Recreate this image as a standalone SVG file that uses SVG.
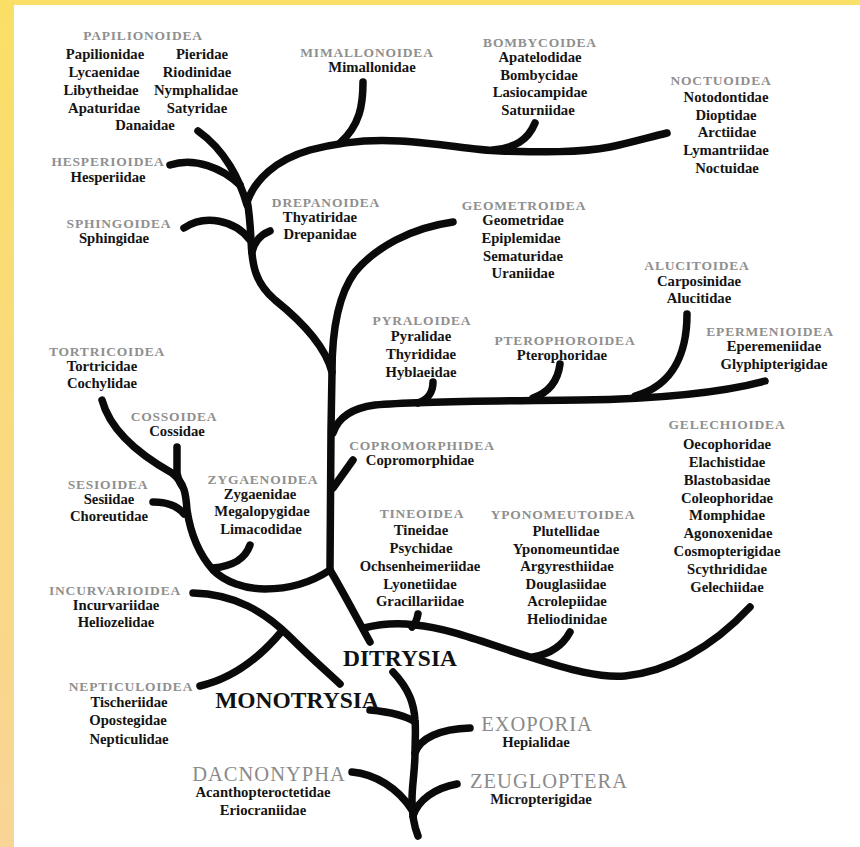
<svg xmlns="http://www.w3.org/2000/svg" width="860" height="847" viewBox="0 0 860 847">
<defs>
<linearGradient id="lg" x1="0" y1="0" x2="0" y2="1">
<stop offset="0" stop-color="#FADF66"/>
<stop offset="1" stop-color="#F8D596"/>
</linearGradient>
<style>
text{font-family:"Liberation Serif","Times New Roman",serif;text-anchor:middle}
.h{font-size:13.5px;letter-spacing:0.8px;font-weight:bold;fill:#8f8f8f}
.f{font-size:14.7px;font-weight:bold;fill:#141414}
.big{font-size:23.5px;font-weight:bold;fill:#111}
.cl{font-size:20.5px;letter-spacing:1px;fill:#8a8a8a}
#connectors path{fill:none;stroke:#0a0a0a;stroke-width:7.5;stroke-linecap:round;stroke-linejoin:round}
</style>
</defs>
<rect x="0" y="0" width="860" height="847" fill="#ffffff"/>
<rect x="0" y="0" width="860" height="5" fill="#FADF68"/>
<rect x="0" y="0" width="14" height="847" fill="url(#lg)"/>

<g id="connectors">
<path d="M418,836 C414,826 412,812 412,800 C412,785 415,770 415,753 C415,740 416,730 415,720 C414,705 410,690 393,672"/>
<path d="M413,816 C418,800 435,788 457,784"/>
<path d="M352,772 C375,774 398,788 412,810"/>
<path d="M415,753 C420,738 440,729 470,728"/>
<path d="M370,710 C390,712 405,715 415,722"/>
<path d="M193,593 C235,594 265,612 290,637 C310,657 325,670 340,684"/>
<path d="M200,686 C235,678 262,655 282,631"/>
<path d="M330,570 C342,590 355,615 370,642"/>
<path d="M364,628 C380,624 400,623 415,625 C450,628 490,645 530,657 C570,670 600,678 625,676 C665,672 710,650 750,607"/>
<path d="M418,614 C417,620 415,624 412,627"/>
<path d="M570,632 C562,647 550,654 533,657"/>
<path d="M102,400 C110,430 140,455 172,473 C185,483 186,495 187,510 C190,530 197,552 213,570 C225,582 245,589 265,589 C290,589 312,582 330,570"/>
<path d="M177,447 L177,473 Q178,480 182,486"/>
<path d="M153,502 C165,502 177,505 184,514"/>
<path d="M250,545 C245,560 232,566 213,568"/>
<path d="M330,570 L331,430 L332,372 C332,330 338,295 355,272 C375,248 410,228 453,222"/>
<path d="M332,372 C325,345 300,320 275,300 C255,283 252,265 251,240 C250,220 249,210 247,200"/>
<path d="M333,433 C338,418 352,408 375,405 C420,401 500,401 580,400 C650,399 720,393 765,381"/>
<path d="M433,382 C433,393 428,399 418,403"/>
<path d="M560,364 C558,380 550,392 533,398"/>
<path d="M687,314 C687,350 675,385 635,396"/>
<path d="M353,460 L333,488"/>
<path d="M184,228 C205,214 235,220 250,240"/>
<path d="M270,231 C260,235 254,243 252,252"/>
<path d="M247,205 C240,180 225,150 198,131"/>
<path d="M170,165 C195,157 222,168 240,185"/>
<path d="M247,202 C255,180 275,160 310,150 C340,142 370,139 400,141 C440,143 470,150 500,151 C540,152 580,153 610,147 C630,143 650,137 667,133"/>
<path d="M363,82 C363,105 360,125 340,143"/>
<path d="M535,123 C528,140 515,148 493,150"/>
</g>

<g id="papilionoidea">
<text class="h" x="143" y="40">PAPILIONOIDEA</text>
<text class="f" x="105" y="59">Papilionidae</text>
<text class="f" x="202" y="59">Pieridae</text>
<text class="f" x="104" y="77">Lycaenidae</text>
<text class="f" x="197" y="77">Riodinidae</text>
<text class="f" x="101" y="95">Libytheidae</text>
<text class="f" x="196" y="95">Nymphalidae</text>
<text class="f" x="104" y="113">Apaturidae</text>
<text class="f" x="197" y="113">Satyridae</text>
<text class="f" x="145" y="130">Danaidae</text>
</g>
<g id="hesperioidea">
<text class="h" x="108" y="166">HESPERIOIDEA</text>
<text class="f" x="108" y="182">Hesperiidae</text>
</g>
<g id="sphingoidea">
<text class="h" x="119" y="228">SPHINGOIDEA</text>
<text class="f" x="114" y="243">Sphingidae</text>
</g>
<g id="mimallonoidea">
<text class="h" x="367" y="57">MIMALLONOIDEA</text>
<text class="f" x="372" y="72">Mimallonidae</text>
</g>
<g id="bombycoidea">
<text class="h" x="540" y="47">BOMBYCOIDEA</text>
<text class="f" x="540" y="62">Apatelodidae</text>
<text class="f" x="539" y="80">Bombycidae</text>
<text class="f" x="540" y="97">Lasiocampidae</text>
<text class="f" x="538" y="115">Saturniidae</text>
</g>
<g id="noctuoidea">
<text class="h" x="721" y="85">NOCTUOIDEA</text>
<text class="f" x="726" y="102">Notodontidae</text>
<text class="f" x="726" y="120">Dioptidae</text>
<text class="f" x="727" y="137">Arctiidae</text>
<text class="f" x="726" y="155">Lymantriidae</text>
<text class="f" x="727" y="173">Noctuidae</text>
</g>
<g id="drepanoidea">
<text class="h" x="326" y="207">DREPANOIDEA</text>
<text class="f" x="320" y="222">Thyatiridae</text>
<text class="f" x="320" y="239">Drepanidae</text>
</g>
<g id="geometroidea">
<text class="h" x="524" y="210">GEOMETROIDEA</text>
<text class="f" x="523" y="225">Geometridae</text>
<text class="f" x="521" y="243">Epiplemidae</text>
<text class="f" x="523" y="261">Sematuridae</text>
<text class="f" x="523" y="278">Uraniidae</text>
</g>
<g id="alucitoidea">
<text class="h" x="697" y="270">ALUCITOIDEA</text>
<text class="f" x="699" y="286">Carposinidae</text>
<text class="f" x="699" y="303">Alucitidae</text>
</g>
<g id="pyraloidea">
<text class="h" x="422" y="325">PYRALOIDEA</text>
<text class="f" x="421" y="341">Pyralidae</text>
<text class="f" x="421" y="359">Thyrididae</text>
<text class="f" x="421" y="377">Hyblaeidae</text>
</g>
<g id="pterophoroidea">
<text class="h" x="565" y="345">PTEROPHOROIDEA</text>
<text class="f" x="562" y="360">Pterophoridae</text>
</g>
<g id="epermenioidea">
<text class="h" x="770" y="336">EPERMENIOIDEA</text>
<text class="f" x="774" y="351">Eperemeniidae</text>
<text class="f" x="774" y="369">Glyphipterigidae</text>
</g>
<g id="gelechioidea">
<text class="h" x="727" y="429">GELECHIOIDEA</text>
<text class="f" x="727" y="449">Oecophoridae</text>
<text class="f" x="727" y="467">Elachistidae</text>
<text class="f" x="727" y="485">Blastobasidae</text>
<text class="f" x="727" y="503">Coleophoridae</text>
<text class="f" x="727" y="520">Momphidae</text>
<text class="f" x="728" y="538">Agonoxenidae</text>
<text class="f" x="727" y="556">Cosmopterigidae</text>
<text class="f" x="727" y="574">Scythrididae</text>
<text class="f" x="727" y="592">Gelechiidae</text>
</g>
<g id="tortricoidea">
<text class="h" x="107" y="356">TORTRICOIDEA</text>
<text class="f" x="102" y="371">Tortricidae</text>
<text class="f" x="102" y="388">Cochylidae</text>
</g>
<g id="cossoidea">
<text class="h" x="174" y="421">COSSOIDEA</text>
<text class="f" x="177" y="436">Cossidae</text>
</g>
<g id="sesioidea">
<text class="h" x="108" y="489">SESIOIDEA</text>
<text class="f" x="109" y="504">Sesiidae</text>
<text class="f" x="109" y="521">Choreutidae</text>
</g>
<g id="zygaenoidea">
<text class="h" x="263" y="484">ZYGAENOIDEA</text>
<text class="f" x="260" y="499">Zygaenidae</text>
<text class="f" x="262" y="516">Megalopygidae</text>
<text class="f" x="261" y="534">Limacodidae</text>
</g>
<g id="copromorphoidea">
<text class="h" x="422" y="450">COPROMORPHIDEA</text>
<text class="f" x="420" y="465">Copromorphidae</text>
</g>
<g id="tineoidea">
<text class="h" x="422" y="518">TINEOIDEA</text>
<text class="f" x="421" y="535">Tineidae</text>
<text class="f" x="421" y="553">Psychidae</text>
<text class="f" x="420" y="571">Ochsenheimeriidae</text>
<text class="f" x="420" y="589">Lyonetiidae</text>
<text class="f" x="420" y="606">Gracillariidae</text>
</g>
<g id="yponomeutoidea">
<text class="h" x="563" y="519">YPONOMEUTOIDEA</text>
<text class="f" x="566" y="536">Plutellidae</text>
<text class="f" x="566" y="554">Yponomeuntidae</text>
<text class="f" x="567" y="571">Argyresthiidae</text>
<text class="f" x="566" y="589">Douglasiidae</text>
<text class="f" x="567" y="606">Acrolepiidae</text>
<text class="f" x="567" y="624">Heliodinidae</text>
</g>
<g id="incurvarioidea">
<text class="h" x="115" y="595">INCURVARIOIDEA</text>
<text class="f" x="116" y="610">Incurvariidae</text>
<text class="f" x="116" y="627">Heliozelidae</text>
</g>
<g id="nepticuloidea">
<text class="h" x="131" y="691">NEPTICULOIDEA</text>
<text class="f" x="129" y="707">Tischeriidae</text>
<text class="f" x="128" y="725">Opostegidae</text>
<text class="f" x="129" y="744">Nepticulidae</text>
</g>
<g id="ditrysia">
<text class="big" x="400" y="666">DITRYSIA</text>
</g>
<g id="monotrysia">
<text class="big" x="297" y="708">MONOTRYSIA</text>
</g>
<g id="exoporia">
<text class="cl" x="537" y="731">EXOPORIA</text>
<text class="f" x="536" y="747">Hepialidae</text>
</g>
<g id="zeugloptera">
<text class="cl" x="549" y="788">ZEUGLOPTERA</text>
<text class="f" x="541" y="804">Micropterigidae</text>
</g>
<g id="dacnonypha">
<text class="cl" x="269" y="781">DACNONYPHA</text>
<text class="f" x="263" y="797">Acanthopteroctetidae</text>
<text class="f" x="263" y="815">Eriocraniidae</text>
</g>
</svg>
